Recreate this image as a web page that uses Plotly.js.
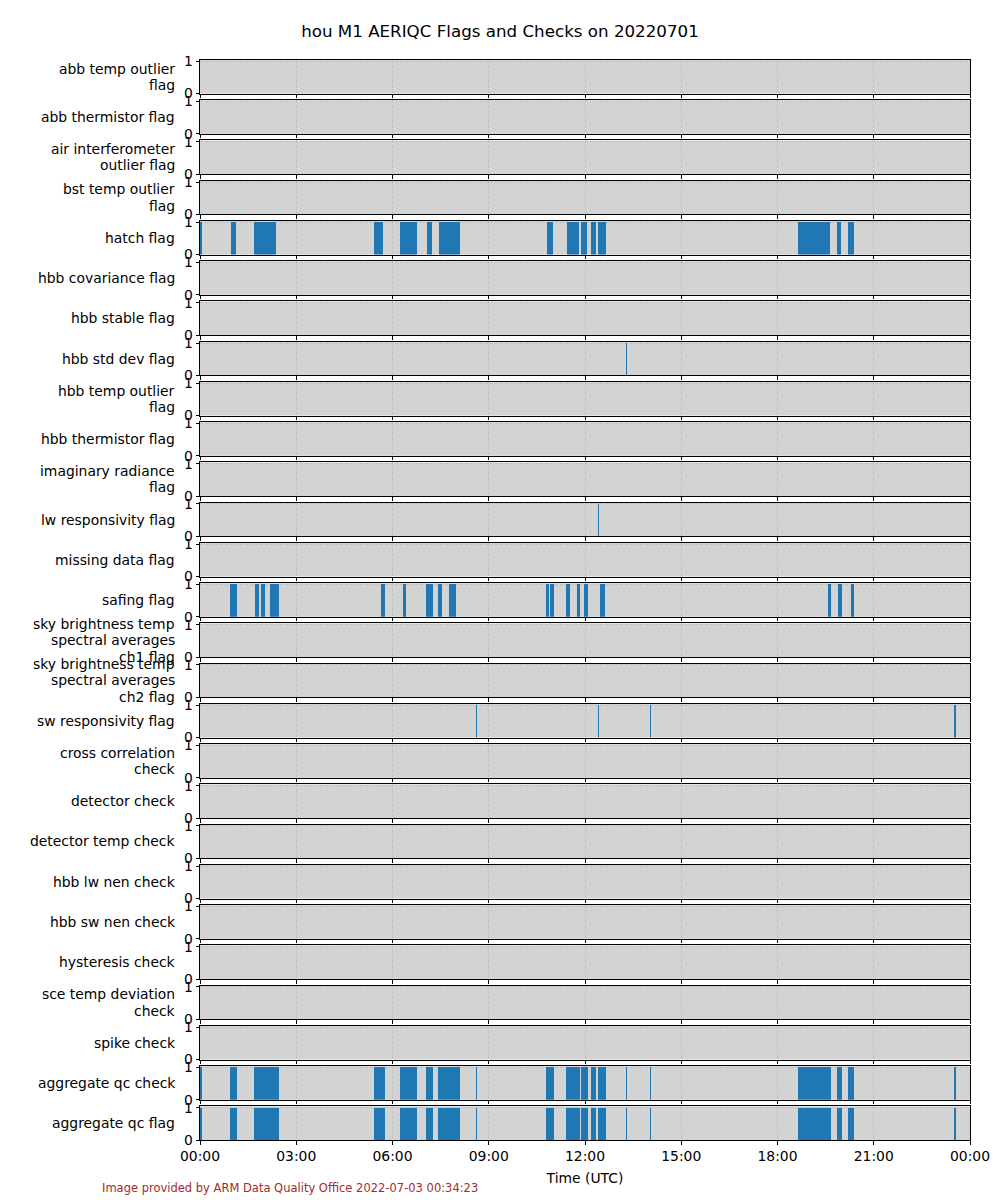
<!DOCTYPE html>
<html>
<head>
<meta charset="utf-8">
<script src="https://cdn.plot.ly/plotly-3.0.1.min.js"></script>
<style>html,body{margin:0;padding:0;background:#fff;}#chart{width:1000px;height:1200px;}</style>
</head>
<body>
<div id="chart"></div>
<script>
// ---- Data ----
const day = "2022-07-01";
const labels = [
  "abb temp outlier\nflag",
  "abb thermistor flag",
  "air interferometer\noutlier flag",
  "bst temp outlier\nflag",
  "hatch flag",
  "hbb covariance flag",
  "hbb stable flag",
  "hbb std dev flag",
  "hbb temp outlier\nflag",
  "hbb thermistor flag",
  "imaginary radiance\nflag",
  "lw responsivity flag",
  "missing data flag",
  "safing flag",
  "sky brightness temp\nspectral averages\nch1 flag",
  "sky brightness temp\nspectral averages\nch2 flag",
  "sw responsivity flag",
  "cross correlation\ncheck",
  "detector check",
  "detector temp check",
  "hbb lw nen check",
  "hbb sw nen check",
  "hysteresis check",
  "sce temp deviation\ncheck",
  "spike check",
  "aggregate qc check",
  "aggregate qc flag"
];

// flagged intervals [start, end] (HH:MM, UTC)
const hatchFlag = [
  ["00:00","00:04"],["00:58","01:07"],["01:41","02:23"],["05:25","05:43"],
  ["06:14","06:45"],["07:05","07:14"],["07:27","08:07"],["10:49","11:00"],
  ["11:26","11:49"],["11:53","12:03"],["12:11","12:20"],["12:25","12:39"],
  ["18:38","19:38"],["19:51","19:59"],["20:12","20:23"]
];
const safingFlag = [
  ["00:56","01:09"],["01:43","01:50"],["01:54","02:02"],["02:11","02:28"],
  ["05:38","05:46"],["06:20","06:25"],["07:02","07:16"],["07:25","07:32"],
  ["07:46","07:59"],["10:47","10:53"],["10:55","11:02"],["11:25","11:32"],
  ["11:45","11:50"],["11:58","12:05"],["12:28","12:37"],["19:34","19:40"],
  ["19:53","20:01"],["20:17","20:23"]
];
const hbbStdDevFlag = [["13:17","13:19"]];
const lwResponsivityFlag = [["12:25","12:27"]];
const swResponsivityFlag = [["08:36","08:38"],["12:25","12:27"],["14:02","14:04"],["23:31","23:33"]];
const aggregateQc = [
  ["00:00","00:04"],["00:56","01:09"],["01:41","02:28"],["05:25","05:46"],
  ["06:14","06:45"],["07:02","07:16"],["07:25","08:07"],["08:36","08:38"],
  ["10:47","11:02"],["11:25","11:50"],["11:53","12:05"],["12:11","12:20"],
  ["12:25","12:39"],["13:16","13:19"],["14:02","14:04"],["18:38","19:40"],
  ["19:51","20:01"],["20:12","20:23"],["23:31","23:33"]
];
const intervalsByLabel = {
  "hatch flag": hatchFlag,
  "safing flag": safingFlag,
  "hbb std dev flag": hbbStdDevFlag,
  "lw responsivity flag": lwResponsivityFlag,
  "sw responsivity flag": swResponsivityFlag,
  "aggregate qc check": aggregateQc,
  "aggregate qc flag": aggregateQc
};
const xTickVals = ["00:00","03:00","06:00","09:00","12:00","15:00","18:00","21:00","00:00"];

// ---- Build ----
const W = 1000, H = 1200, mL = 200, mR = 30, mT = 60, mB = 60;
const plotH = H - mT - mB, plotW = W - mL - mR;
const n = labels.length;
const axH = 33.6;
const pitch = (plotH - axH) / (n - 1);
const lineStep = 16.3; // px between label lines

function toMs(hm){ const [h,m] = hm.split(":").map(Number); return (h*60+m)*60000; }
const dayStart = Date.parse(day + "T00:00:00Z");
function toDate(ms){ return new Date(dayStart + ms).toISOString().replace("T"," ").replace("Z",""); }

const traces = [];
const layout = {
  width: W, height: H,
  margin: {l: mL, r: mR, t: mT, b: mB},
  paper_bgcolor: "#ffffff",
  plot_bgcolor: "#d3d3d3",
  showlegend: false,
  font: {family: "DejaVu Sans", size: 13.9, color: "#000"},
  title: {text: "hou M1 AERIQC Flags and Checks on 20220701", font: {family: "DejaVu Sans", size: 16.7, color: "#000"},
          x: 0.5, xanchor: "center", xref: "container", y: 1 - 31/H, yref: "container", yanchor: "middle"},
  annotations: [],
  bargap: 0
};

const tickvals = xTickVals.map((t,i) => toDate(toMs(t) + (i === xTickVals.length-1 ? 24*3600000 : 0)));

labels.forEach((lab, i) => {
  const k = i + 1;
  const xs = k === 1 ? "" : String(k);
  const top = 1 - (i*pitch)/plotH;
  const bot = top - axH/plotH;
  const iv = intervalsByLabel[lab] || [];
  traces.push({
    type: "bar",
    x: iv.map(p => toDate(toMs(p[0]))),
    y: iv.map(() => 1),
    width: iv.map(p => toMs(p[1]) - toMs(p[0])),
    offset: 0,
    marker: {color: "#1f77b4", line: {width: 0}},
    xaxis: "x" + xs, yaxis: "y" + xs,
    hoverinfo: "skip"
  });
  layout["xaxis" + xs] = {
    domain: [0, 1], anchor: "y" + xs,
    type: "date",
    range: [toDate(0), toDate(24*3600000)],
    tickvals: tickvals,
    ticktext: xTickVals,
    showticklabels: k === n,
    ticks: "outside", ticklen: 3.5, tickwidth: 1, tickcolor: "#000",
    showline: true, linecolor: "#000", linewidth: 1, mirror: true,
    showgrid: true, gridcolor: "#bdbdbd", griddash: "3px,2px", gridwidth: 0.8,
    zeroline: false,
    layer: "above traces",
    tickfont: {family: "DejaVu Sans", size: 13.9, color: "#000"},
    title: k === n ? {text: "Time (UTC)", font: {family: "DejaVu Sans", size: 13.9, color: "#000"}, standoff: 10} : {text: ""}
  };
  if (k !== 1) layout["xaxis" + xs].matches = "x";
  layout["yaxis" + xs] = {
    domain: [bot, top], anchor: "x" + xs,
    range: [0, 1.04], fixedrange: true,
    tickvals: [0, 1], ticktext: ["0", "1"],
    ticks: "outside", ticklen: 3.5, tickwidth: 1, tickcolor: "#000",
    showline: true, linecolor: "#000", linewidth: 1, mirror: true,
    showgrid: true, gridcolor: "#bdbdbd", griddash: "3px,2px", gridwidth: 0.8,
    zeroline: false,
    layer: "above traces",
    tickfont: {family: "DejaVu Sans", size: 13.9, color: "#000"}
  };
  const lines = lab.split("\n");
  const mid = (top + bot)/2;
  lines.forEach((ln, j) => {
    const offPx = (j - (lines.length - 1)/2) * lineStep;
    layout.annotations.push({
      text: ln,
      xref: "paper", yref: "paper",
      x: -23/plotW, y: mid - offPx/plotH,
      xanchor: "right", yanchor: "middle", align: "right",
      showarrow: false,
      font: {family: "DejaVu Sans", size: 13.9, color: "#000"}
    });
  });
});

layout.annotations.push({
  text: "Image provided by ARM Data Quality Office 2022-07-03 00:34:23",
  xref: "paper", yref: "paper",
  x: (100 - mL)/plotW, y: 1 - (1188 - mT)/plotH,
  xanchor: "left", yanchor: "middle", showarrow: false,
  font: {family: "DejaVu Sans", size: 11.5, color: "#a52a2a"}
});

Plotly.newPlot("chart", traces, layout, {staticPlot: true, displayModeBar: false});
</script>
</body>
</html>
